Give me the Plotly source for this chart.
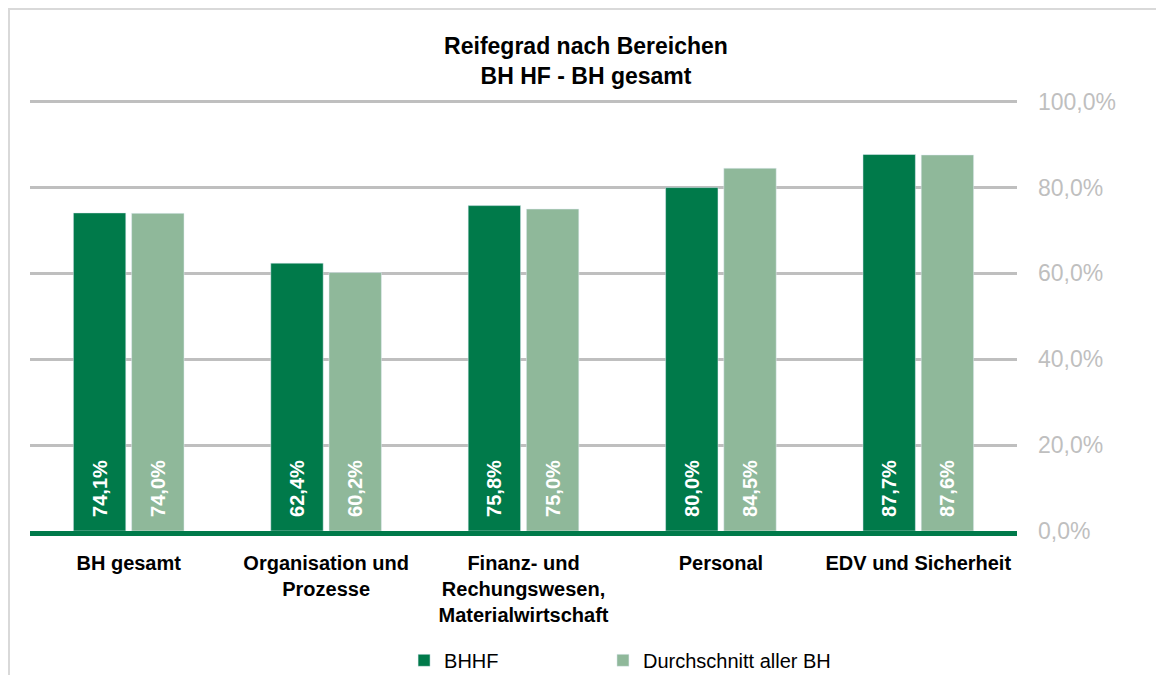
import plotly.graph_objects as go

categories = ["BH gesamt", "Organisation und<br>Prozesse",
              "Finanz- und<br>Rechungswesen,<br>Materialwirtschaft",
              "Personal", "EDV und Sicherheit"]
bhhf = [74.1, 62.4, 75.8, 80.0, 87.7]
durchschnitt = [74.0, 60.2, 75.0, 84.5, 87.6]
tick_vals = [0, 20, 40, 60, 80, 100]
tick_text = ["0,0%", "20,0%", "40,0%", "60,0%", "80,0%", "100,0%"]

FONT = "Liberation Sans Narrow, Arial Narrow, Liberation Sans, Arial"
DARK = "#007a4a"
LIGHT = "#8fb89a"


def pct(v):
    # leading no-break spaces keep the label off the baseline
    return "\u00a0\u00a0" + f"{v:.1f}%".replace(".", ",")


fig = go.Figure()
for name, vals, col, leg in [("BHHF", bhhf, DARK, "legend"),
                             ("Durchschnitt aller BH", durchschnitt, LIGHT, "legend2")]:
    fig.add_trace(go.Bar(
        x=categories, y=vals, name=name, marker_color=col, legend=leg,
        showlegend=True,
        text=[pct(v) for v in vals], textposition="inside",
        insidetextanchor="start", textangle=-90,
        insidetextfont=dict(family=FONT, size=20, color="white", weight="bold"),
    ))

legend_style = dict(orientation="h", xanchor="left", y=-0.30, yanchor="middle",
                    font=dict(family=FONT, size=20, color="black"))

# page body adds an 8px offset, so the figure is 8px smaller each way
fig.update_layout(
    width=1156, height=667,
    paper_bgcolor="white", plot_bgcolor="white",
    margin=dict(l=22, r=147, t=92, b=144, autoexpand=False),
    showlegend=True,
    barmode="group", bargap=0.41, bargroupgap=0.1,
    title=dict(text="<b>Reifegrad nach Bereichen<br>BH HF - BH gesamt</b>",
               x=0.5, xanchor="center", y=0.931, yanchor="middle",
               font=dict(family=FONT, size=23, color="black")),
    font=dict(family=FONT),
    legend=dict(x=0.379, **legend_style),
    legend2=dict(x=0.5805, **legend_style),
    xaxis=dict(showline=True, linecolor=DARK, linewidth=5, ticks="",
               tickfont=dict(family=FONT, size=20, color="black", weight="bold"),
               ticklabelstandoff=10, automargin=False, fixedrange=True),
    yaxis=dict(side="right", range=[0, 100.4], tickvals=tick_vals, ticktext=tick_text,
               showgrid=True, gridcolor="#bfbfbf", gridwidth=3, zeroline=False,
               tickfont=dict(family=FONT, size=23, color="#bfbfbf"),
               ticklabelstandoff=20, automargin=False),
    shapes=[dict(type="rect", xref="paper", yref="paper",
                 x0=-21 / 987, x1=1.2, y0=-0.6, y1=1 + 91 / 431,
                 line=dict(color="#d9d9d9", width=2), layer="below")],
)

fig.write_html("out.html")
